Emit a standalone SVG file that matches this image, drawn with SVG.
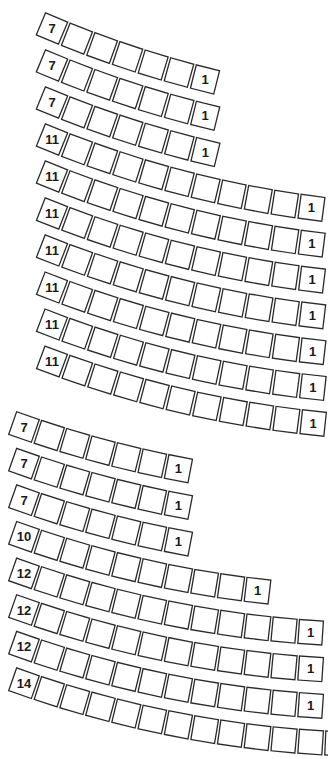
<svg xmlns="http://www.w3.org/2000/svg" xmlns:xlink="http://www.w3.org/1999/xlink" width="328" height="759" viewBox="0 0 328 759">
<style>
.s{fill:#fff;stroke:#2a2a2a;stroke-width:1.3}
.t{font-family:"Liberation Sans",Arial,sans-serif;font-weight:bold;font-size:13px;text-anchor:middle;fill:#1a1a1a}
</style>
<defs><rect id="s" class="s" x="-12" y="-12" width="24" height="24"/></defs>
<rect width="328" height="759" fill="#fff"/>
<g id="connectors"/>
<g id="upper-section">
<g id="u-row-1" transform="translate(463.07,-951.80)">
<use href="#s" transform="rotate(22.75) translate(0,1063)"/><use href="#s" transform="rotate(21.3) translate(0,1063)"/><use href="#s" transform="rotate(19.85) translate(0,1063)"/><use href="#s" transform="rotate(18.4) translate(0,1063)"/><use href="#s" transform="rotate(16.95) translate(0,1063)"/><use href="#s" transform="rotate(15.5) translate(0,1063)"/><use href="#s" transform="rotate(14.05) translate(0,1063)"/>
<text class="t" y="4.6" transform="rotate(22.75) translate(0,1063) rotate(-22.75)">7</text><text class="t" y="4.6" transform="rotate(14.05) translate(0,1063) rotate(-14.05)">1</text>
</g>
<g id="u-row-2" transform="translate(458.79,-916.58)">
<use href="#s" transform="rotate(22.5) translate(0,1063)"/><use href="#s" transform="rotate(21.05) translate(0,1063)"/><use href="#s" transform="rotate(19.6) translate(0,1063)"/><use href="#s" transform="rotate(18.15) translate(0,1063)"/><use href="#s" transform="rotate(16.7) translate(0,1063)"/><use href="#s" transform="rotate(15.25) translate(0,1063)"/><use href="#s" transform="rotate(13.8) translate(0,1063)"/>
<text class="t" y="4.6" transform="rotate(22.5) translate(0,1063) rotate(-22.5)">7</text><text class="t" y="4.6" transform="rotate(13.8) translate(0,1063) rotate(-13.8)">1</text>
</g>
<g id="u-row-3" transform="translate(454.50,-881.35)">
<use href="#s" transform="rotate(22.25) translate(0,1063)"/><use href="#s" transform="rotate(20.8) translate(0,1063)"/><use href="#s" transform="rotate(19.35) translate(0,1063)"/><use href="#s" transform="rotate(17.9) translate(0,1063)"/><use href="#s" transform="rotate(16.45) translate(0,1063)"/><use href="#s" transform="rotate(15) translate(0,1063)"/><use href="#s" transform="rotate(13.55) translate(0,1063)"/>
<text class="t" y="4.6" transform="rotate(22.25) translate(0,1063) rotate(-22.25)">7</text><text class="t" y="4.6" transform="rotate(13.55) translate(0,1063) rotate(-13.55)">1</text>
</g>
<g id="u-row-4" transform="translate(450.21,-846.09)">
<use href="#s" transform="rotate(22) translate(0,1063)"/><use href="#s" transform="rotate(20.55) translate(0,1063)"/><use href="#s" transform="rotate(19.1) translate(0,1063)"/><use href="#s" transform="rotate(17.65) translate(0,1063)"/><use href="#s" transform="rotate(16.2) translate(0,1063)"/><use href="#s" transform="rotate(14.75) translate(0,1063)"/><use href="#s" transform="rotate(13.3) translate(0,1063)"/><use href="#s" transform="rotate(11.85) translate(0,1063)"/><use href="#s" transform="rotate(10.4) translate(0,1063)"/><use href="#s" transform="rotate(8.95) translate(0,1063)"/><use href="#s" transform="rotate(7.5) translate(0,1063)"/>
<text class="t" y="4.6" transform="rotate(22) translate(0,1063) rotate(-22)">11</text><text class="t" y="4.6" transform="rotate(7.5) translate(0,1063) rotate(-7.5)">1</text>
</g>
<g id="u-row-5" transform="translate(445.91,-810.83)">
<use href="#s" transform="rotate(21.75) translate(0,1063)"/><use href="#s" transform="rotate(20.3) translate(0,1063)"/><use href="#s" transform="rotate(18.85) translate(0,1063)"/><use href="#s" transform="rotate(17.4) translate(0,1063)"/><use href="#s" transform="rotate(15.95) translate(0,1063)"/><use href="#s" transform="rotate(14.5) translate(0,1063)"/><use href="#s" transform="rotate(13.05) translate(0,1063)"/><use href="#s" transform="rotate(11.6) translate(0,1063)"/><use href="#s" transform="rotate(10.15) translate(0,1063)"/><use href="#s" transform="rotate(8.7) translate(0,1063)"/><use href="#s" transform="rotate(7.25) translate(0,1063)"/>
<text class="t" y="4.6" transform="rotate(21.75) translate(0,1063) rotate(-21.75)">11</text><text class="t" y="4.6" transform="rotate(7.25) translate(0,1063) rotate(-7.25)">1</text>
</g>
<g id="u-row-6" transform="translate(441.59,-775.54)">
<use href="#s" transform="rotate(21.5) translate(0,1063)"/><use href="#s" transform="rotate(20.05) translate(0,1063)"/><use href="#s" transform="rotate(18.6) translate(0,1063)"/><use href="#s" transform="rotate(17.15) translate(0,1063)"/><use href="#s" transform="rotate(15.7) translate(0,1063)"/><use href="#s" transform="rotate(14.25) translate(0,1063)"/><use href="#s" transform="rotate(12.8) translate(0,1063)"/><use href="#s" transform="rotate(11.35) translate(0,1063)"/><use href="#s" transform="rotate(9.9) translate(0,1063)"/><use href="#s" transform="rotate(8.45) translate(0,1063)"/><use href="#s" transform="rotate(7) translate(0,1063)"/>
<text class="t" y="4.6" transform="rotate(21.5) translate(0,1063) rotate(-21.5)">11</text><text class="t" y="4.6" transform="rotate(7) translate(0,1063) rotate(-7)">1</text>
</g>
<g id="u-row-7" transform="translate(437.27,-740.23)">
<use href="#s" transform="rotate(21.25) translate(0,1063)"/><use href="#s" transform="rotate(19.8) translate(0,1063)"/><use href="#s" transform="rotate(18.35) translate(0,1063)"/><use href="#s" transform="rotate(16.9) translate(0,1063)"/><use href="#s" transform="rotate(15.45) translate(0,1063)"/><use href="#s" transform="rotate(14) translate(0,1063)"/><use href="#s" transform="rotate(12.55) translate(0,1063)"/><use href="#s" transform="rotate(11.1) translate(0,1063)"/><use href="#s" transform="rotate(9.65) translate(0,1063)"/><use href="#s" transform="rotate(8.2) translate(0,1063)"/><use href="#s" transform="rotate(6.75) translate(0,1063)"/>
<text class="t" y="4.6" transform="rotate(21.25) translate(0,1063) rotate(-21.25)">11</text><text class="t" y="4.6" transform="rotate(6.75) translate(0,1063) rotate(-6.75)">1</text>
</g>
<g id="u-row-8" transform="translate(432.95,-704.90)">
<use href="#s" transform="rotate(21) translate(0,1063)"/><use href="#s" transform="rotate(19.55) translate(0,1063)"/><use href="#s" transform="rotate(18.1) translate(0,1063)"/><use href="#s" transform="rotate(16.65) translate(0,1063)"/><use href="#s" transform="rotate(15.2) translate(0,1063)"/><use href="#s" transform="rotate(13.75) translate(0,1063)"/><use href="#s" transform="rotate(12.3) translate(0,1063)"/><use href="#s" transform="rotate(10.85) translate(0,1063)"/><use href="#s" transform="rotate(9.4) translate(0,1063)"/><use href="#s" transform="rotate(7.95) translate(0,1063)"/><use href="#s" transform="rotate(6.5) translate(0,1063)"/>
<text class="t" y="4.6" transform="rotate(21) translate(0,1063) rotate(-21)">11</text><text class="t" y="4.6" transform="rotate(6.5) translate(0,1063) rotate(-6.5)">1</text>
</g>
<g id="u-row-9" transform="translate(428.61,-669.55)">
<use href="#s" transform="rotate(20.75) translate(0,1063)"/><use href="#s" transform="rotate(19.3) translate(0,1063)"/><use href="#s" transform="rotate(17.85) translate(0,1063)"/><use href="#s" transform="rotate(16.4) translate(0,1063)"/><use href="#s" transform="rotate(14.95) translate(0,1063)"/><use href="#s" transform="rotate(13.5) translate(0,1063)"/><use href="#s" transform="rotate(12.05) translate(0,1063)"/><use href="#s" transform="rotate(10.6) translate(0,1063)"/><use href="#s" transform="rotate(9.15) translate(0,1063)"/><use href="#s" transform="rotate(7.7) translate(0,1063)"/><use href="#s" transform="rotate(6.25) translate(0,1063)"/>
<text class="t" y="4.6" transform="rotate(20.75) translate(0,1063) rotate(-20.75)">11</text><text class="t" y="4.6" transform="rotate(6.25) translate(0,1063) rotate(-6.25)">1</text>
</g>
<g id="u-row-10" transform="translate(424.27,-634.18)">
<use href="#s" transform="rotate(20.5) translate(0,1063)"/><use href="#s" transform="rotate(19.05) translate(0,1063)"/><use href="#s" transform="rotate(17.6) translate(0,1063)"/><use href="#s" transform="rotate(16.15) translate(0,1063)"/><use href="#s" transform="rotate(14.7) translate(0,1063)"/><use href="#s" transform="rotate(13.25) translate(0,1063)"/><use href="#s" transform="rotate(11.8) translate(0,1063)"/><use href="#s" transform="rotate(10.35) translate(0,1063)"/><use href="#s" transform="rotate(8.9) translate(0,1063)"/><use href="#s" transform="rotate(7.45) translate(0,1063)"/><use href="#s" transform="rotate(6) translate(0,1063)"/>
<text class="t" y="4.6" transform="rotate(20.5) translate(0,1063) rotate(-20.5)">11</text><text class="t" y="4.6" transform="rotate(6) translate(0,1063) rotate(-6)">1</text>
</g>
</g>
<g id="lower-section">
<g id="l-row-1" transform="translate(384.92,-603.63)">
<use href="#s" transform="rotate(19.3) translate(0,1092)"/><use href="#s" transform="rotate(17.9) translate(0,1092)"/><use href="#s" transform="rotate(16.5) translate(0,1092)"/><use href="#s" transform="rotate(15.1) translate(0,1092)"/><use href="#s" transform="rotate(13.7) translate(0,1092)"/><use href="#s" transform="rotate(12.3) translate(0,1092)"/><use href="#s" transform="rotate(10.9) translate(0,1092)"/>
<text class="t" y="4.6" transform="rotate(19.3) translate(0,1092) rotate(-19.3)">7</text><text class="t" y="4.6" transform="rotate(10.9) translate(0,1092) rotate(-10.9)">1</text>
</g>
<g id="l-row-2" transform="translate(384.92,-567.03)">
<use href="#s" transform="rotate(19.3) translate(0,1092)"/><use href="#s" transform="rotate(17.9) translate(0,1092)"/><use href="#s" transform="rotate(16.5) translate(0,1092)"/><use href="#s" transform="rotate(15.1) translate(0,1092)"/><use href="#s" transform="rotate(13.7) translate(0,1092)"/><use href="#s" transform="rotate(12.3) translate(0,1092)"/><use href="#s" transform="rotate(10.9) translate(0,1092)"/>
<text class="t" y="4.6" transform="rotate(19.3) translate(0,1092) rotate(-19.3)">7</text><text class="t" y="4.6" transform="rotate(10.9) translate(0,1092) rotate(-10.9)">1</text>
</g>
<g id="l-row-3" transform="translate(384.92,-530.43)">
<use href="#s" transform="rotate(19.3) translate(0,1092)"/><use href="#s" transform="rotate(17.9) translate(0,1092)"/><use href="#s" transform="rotate(16.5) translate(0,1092)"/><use href="#s" transform="rotate(15.1) translate(0,1092)"/><use href="#s" transform="rotate(13.7) translate(0,1092)"/><use href="#s" transform="rotate(12.3) translate(0,1092)"/><use href="#s" transform="rotate(10.9) translate(0,1092)"/>
<text class="t" y="4.6" transform="rotate(19.3) translate(0,1092) rotate(-19.3)">7</text><text class="t" y="4.6" transform="rotate(10.9) translate(0,1092) rotate(-10.9)">1</text>
</g>
<g id="l-row-4" transform="translate(384.92,-493.83)">
<use href="#s" transform="rotate(19.3) translate(0,1092)"/><use href="#s" transform="rotate(17.9) translate(0,1092)"/><use href="#s" transform="rotate(16.5) translate(0,1092)"/><use href="#s" transform="rotate(15.1) translate(0,1092)"/><use href="#s" transform="rotate(13.7) translate(0,1092)"/><use href="#s" transform="rotate(12.3) translate(0,1092)"/><use href="#s" transform="rotate(10.9) translate(0,1092)"/><use href="#s" transform="rotate(9.5) translate(0,1092)"/><use href="#s" transform="rotate(8.1) translate(0,1092)"/><use href="#s" transform="rotate(6.7) translate(0,1092)"/>
<text class="t" y="4.6" transform="rotate(19.3) translate(0,1092) rotate(-19.3)">10</text><text class="t" y="4.6" transform="rotate(6.7) translate(0,1092) rotate(-6.7)">1</text>
</g>
<g id="l-row-5" transform="translate(384.92,-457.23)">
<use href="#s" transform="rotate(19.3) translate(0,1092)"/><use href="#s" transform="rotate(17.9) translate(0,1092)"/><use href="#s" transform="rotate(16.5) translate(0,1092)"/><use href="#s" transform="rotate(15.1) translate(0,1092)"/><use href="#s" transform="rotate(13.7) translate(0,1092)"/><use href="#s" transform="rotate(12.3) translate(0,1092)"/><use href="#s" transform="rotate(10.9) translate(0,1092)"/><use href="#s" transform="rotate(9.5) translate(0,1092)"/><use href="#s" transform="rotate(8.1) translate(0,1092)"/><use href="#s" transform="rotate(6.7) translate(0,1092)"/><use href="#s" transform="rotate(5.3) translate(0,1092)"/><use href="#s" transform="rotate(3.9) translate(0,1092)"/>
<text class="t" y="4.6" transform="rotate(19.3) translate(0,1092) rotate(-19.3)">12</text><text class="t" y="4.6" transform="rotate(3.9) translate(0,1092) rotate(-3.9)">1</text>
</g>
<g id="l-row-6" transform="translate(384.92,-420.63)">
<use href="#s" transform="rotate(19.3) translate(0,1092)"/><use href="#s" transform="rotate(17.9) translate(0,1092)"/><use href="#s" transform="rotate(16.5) translate(0,1092)"/><use href="#s" transform="rotate(15.1) translate(0,1092)"/><use href="#s" transform="rotate(13.7) translate(0,1092)"/><use href="#s" transform="rotate(12.3) translate(0,1092)"/><use href="#s" transform="rotate(10.9) translate(0,1092)"/><use href="#s" transform="rotate(9.5) translate(0,1092)"/><use href="#s" transform="rotate(8.1) translate(0,1092)"/><use href="#s" transform="rotate(6.7) translate(0,1092)"/><use href="#s" transform="rotate(5.3) translate(0,1092)"/><use href="#s" transform="rotate(3.9) translate(0,1092)"/>
<text class="t" y="4.6" transform="rotate(19.3) translate(0,1092) rotate(-19.3)">12</text><text class="t" y="4.6" transform="rotate(3.9) translate(0,1092) rotate(-3.9)">1</text>
</g>
<g id="l-row-7" transform="translate(384.92,-384.03)">
<use href="#s" transform="rotate(19.3) translate(0,1092)"/><use href="#s" transform="rotate(17.9) translate(0,1092)"/><use href="#s" transform="rotate(16.5) translate(0,1092)"/><use href="#s" transform="rotate(15.1) translate(0,1092)"/><use href="#s" transform="rotate(13.7) translate(0,1092)"/><use href="#s" transform="rotate(12.3) translate(0,1092)"/><use href="#s" transform="rotate(10.9) translate(0,1092)"/><use href="#s" transform="rotate(9.5) translate(0,1092)"/><use href="#s" transform="rotate(8.1) translate(0,1092)"/><use href="#s" transform="rotate(6.7) translate(0,1092)"/><use href="#s" transform="rotate(5.3) translate(0,1092)"/><use href="#s" transform="rotate(3.9) translate(0,1092)"/>
<text class="t" y="4.6" transform="rotate(19.3) translate(0,1092) rotate(-19.3)">12</text><text class="t" y="4.6" transform="rotate(3.9) translate(0,1092) rotate(-3.9)">1</text>
</g>
<g id="l-row-8" transform="translate(384.92,-347.43)">
<use href="#s" transform="rotate(19.3) translate(0,1092)"/><use href="#s" transform="rotate(17.9) translate(0,1092)"/><use href="#s" transform="rotate(16.5) translate(0,1092)"/><use href="#s" transform="rotate(15.1) translate(0,1092)"/><use href="#s" transform="rotate(13.7) translate(0,1092)"/><use href="#s" transform="rotate(12.3) translate(0,1092)"/><use href="#s" transform="rotate(10.9) translate(0,1092)"/><use href="#s" transform="rotate(9.5) translate(0,1092)"/><use href="#s" transform="rotate(8.1) translate(0,1092)"/><use href="#s" transform="rotate(6.7) translate(0,1092)"/><use href="#s" transform="rotate(5.3) translate(0,1092)"/><use href="#s" transform="rotate(3.9) translate(0,1092)"/><use href="#s" transform="rotate(2.5) translate(0,1092)"/><use href="#s" transform="rotate(1.1) translate(0,1092)"/>
<text class="t" y="4.6" transform="rotate(19.3) translate(0,1092) rotate(-19.3)">14</text>
</g>
</g>
</svg>
